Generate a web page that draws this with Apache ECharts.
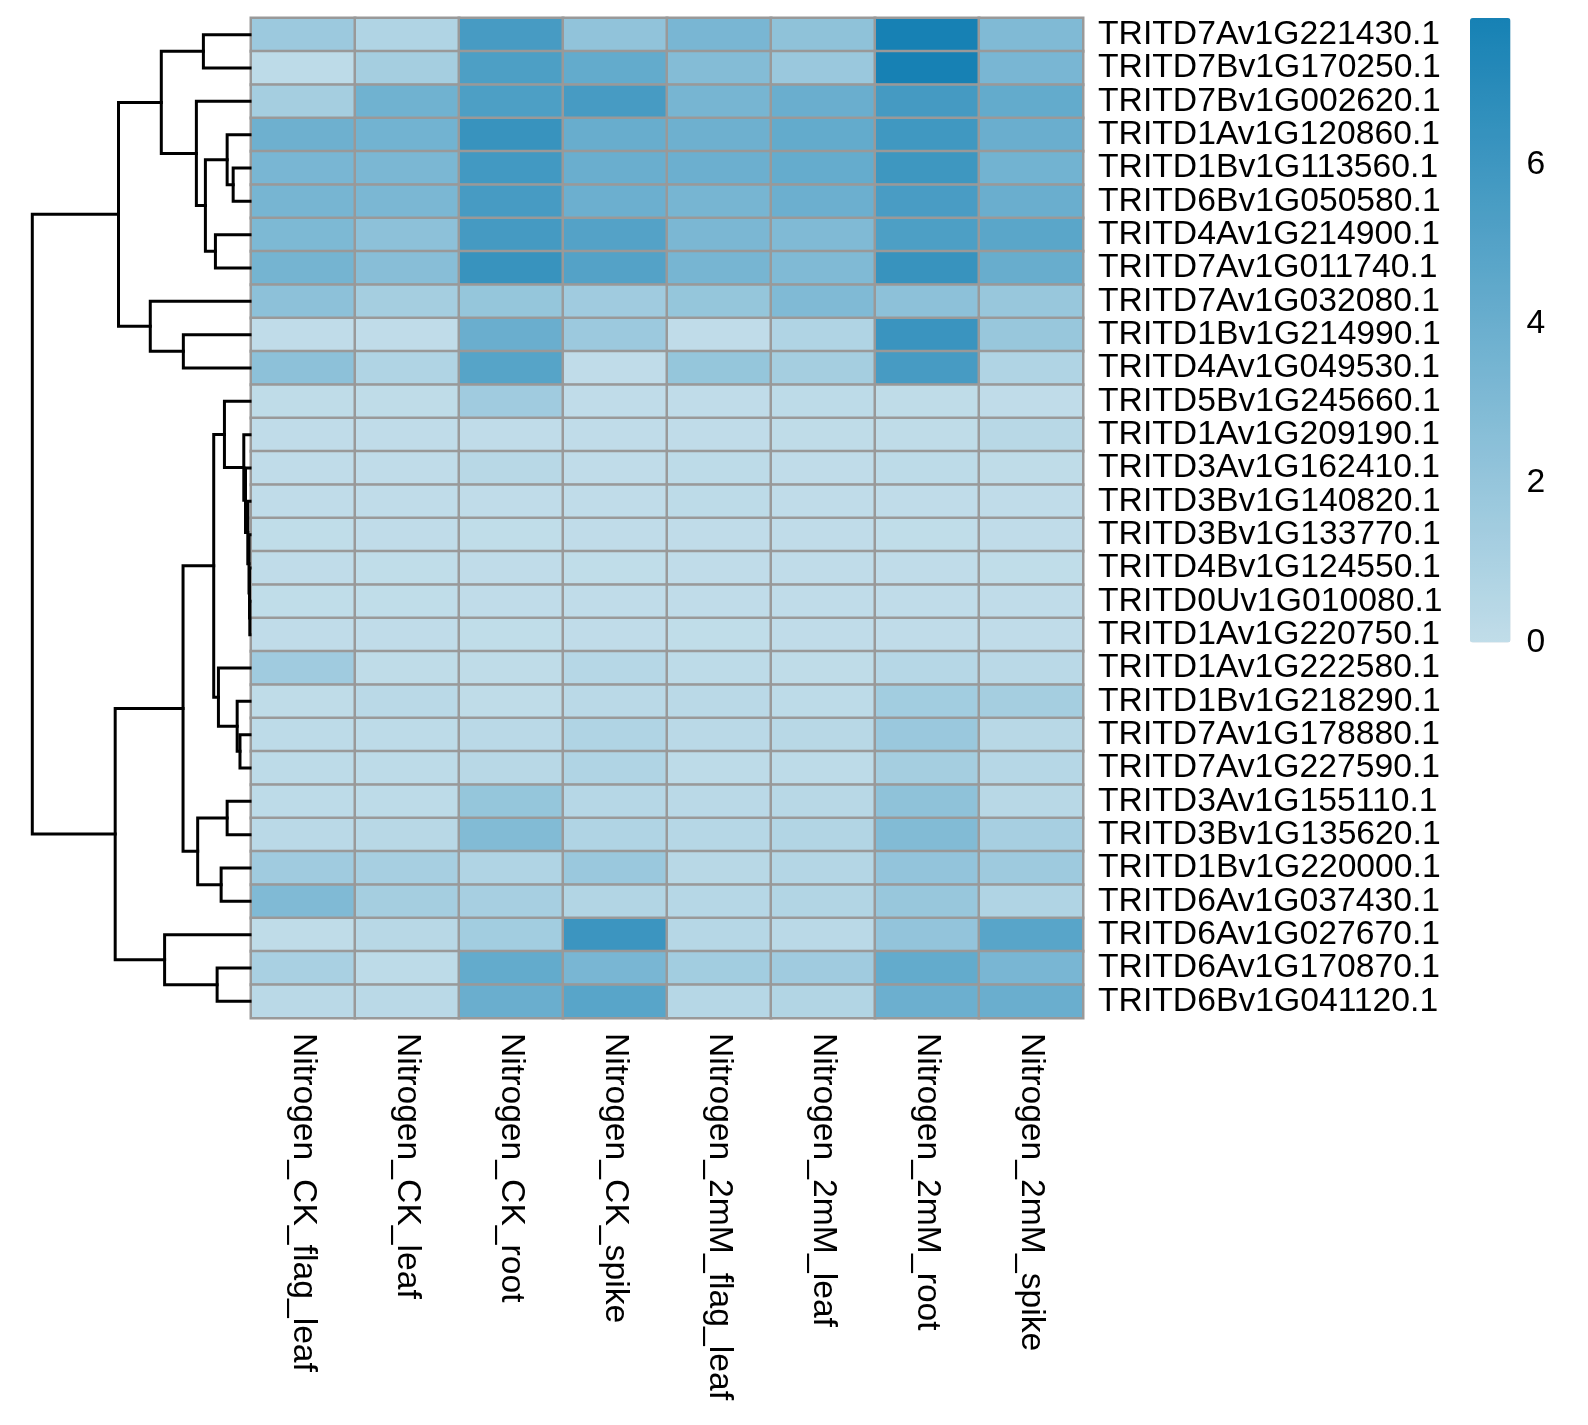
<!DOCTYPE html>
<html>
<head>
<meta charset="utf-8">
<script src="https://cdn.jsdelivr.net/npm/echarts@6/dist/echarts.min.js"></script>
<style>
html,body{margin:0;padding:0;background:#ffffff;}
#chart{width:1588px;height:1425px;}
</style>
</head>
<body>
<div id="chart"></div>
<script>
// ---------- data ----------
const rowNames = [
  "TRITD7Av1G221430.1","TRITD7Bv1G170250.1","TRITD7Bv1G002620.1","TRITD1Av1G120860.1",
  "TRITD1Bv1G113560.1","TRITD6Bv1G050580.1","TRITD4Av1G214900.1","TRITD7Av1G011740.1",
  "TRITD7Av1G032080.1","TRITD1Bv1G214990.1","TRITD4Av1G049530.1","TRITD5Bv1G245660.1",
  "TRITD1Av1G209190.1","TRITD3Av1G162410.1","TRITD3Bv1G140820.1","TRITD3Bv1G133770.1",
  "TRITD4Bv1G124550.1","TRITD0Uv1G010080.1","TRITD1Av1G220750.1","TRITD1Av1G222580.1",
  "TRITD1Bv1G218290.1","TRITD7Av1G178880.1","TRITD7Av1G227590.1","TRITD3Av1G155110.1",
  "TRITD3Bv1G135620.1","TRITD1Bv1G220000.1","TRITD6Av1G037430.1","TRITD6Av1G027670.1",
  "TRITD6Av1G170870.1","TRITD6Bv1G041120.1"
];
const colNames = [
  "Nitrogen_CK_flag_leaf","Nitrogen_CK_leaf","Nitrogen_CK_root","Nitrogen_CK_spike",
  "Nitrogen_2mM_flag_leaf","Nitrogen_2mM_leaf","Nitrogen_2mM_root","Nitrogen_2mM_spike"
];
// one row per gene, one value per column
const values = [
  [1.7, 0.8, 5.6, 2.2, 3.3, 2.3, 7.8, 3.0],
  [0.2, 1.3, 5.3, 4.3, 2.8, 1.8, 7.8, 3.3],
  [1.3, 3.7, 5.3, 5.6, 3.4, 4.0, 5.7, 4.3],
  [3.8, 3.6, 6.3, 4.1, 3.8, 4.3, 5.9, 4.0],
  [3.3, 3.2, 5.8, 4.0, 3.9, 4.2, 6.0, 3.6],
  [3.4, 3.2, 5.6, 3.9, 3.4, 3.9, 5.5, 4.0],
  [3.1, 2.4, 5.7, 5.0, 3.2, 3.0, 5.3, 4.7],
  [3.5, 2.6, 6.3, 5.0, 3.4, 3.0, 6.3, 4.1],
  [2.4, 1.3, 2.0, 1.5, 2.0, 3.0, 2.4, 1.9],
  [0.05, 0.05, 4.0, 1.7, 0.05, 0.8, 6.2, 1.9],
  [2.4, 0.8, 4.9, 0.05, 2.0, 1.3, 5.6, 0.8],
  [0.1, 0.1, 1.5, 0.05, 0.05, 0.2, 0.1, 0.05],
  [0.05, 0.05, 0.05, 0.05, 0.05, 0.1, 0.1, 0.4],
  [0.05, 0.05, 0.4, 0.05, 0.2, 0.05, 0.2, 0.1],
  [0.05, 0.05, 0.05, 0.05, 0.2, 0.05, 0.05, 0.05],
  [0.04, 0.05, 0.03, 0.05, 0.06, 0.05, 0.04, 0.05],
  [0.05, 0.04, 0.05, 0.04, 0.05, 0.06, 0.05, 0.04],
  [0.04, 0.04, 0.05, 0.05, 0.05, 0.05, 0.05, 0.05],
  [0.05, 0.05, 0.04, 0.05, 0.04, 0.05, 0.05, 0.05],
  [1.5, 0.1, 0.1, 0.5, 0.2, 0.1, 0.5, 0.3],
  [0.1, 0.3, 0.1, 0.3, 0.3, 0.2, 1.4, 1.3],
  [0.2, 0.2, 0.3, 0.8, 0.3, 0.4, 1.8, 0.4],
  [0.2, 0.2, 0.4, 0.8, 0.2, 0.2, 1.3, 0.5],
  [0.2, 0.2, 2.0, 0.5, 0.3, 0.4, 2.3, 0.4],
  [0.3, 0.4, 2.9, 0.8, 0.5, 0.7, 2.9, 1.2],
  [1.5, 1.2, 0.8, 1.8, 0.4, 0.6, 2.1, 1.6],
  [3.0, 1.3, 1.2, 0.7, 0.5, 0.7, 1.9, 0.8],
  [0.1, 0.4, 1.4, 6.1, 0.5, 0.3, 2.1, 4.8],
  [1.1, 0.2, 4.3, 3.3, 1.4, 1.5, 4.3, 3.3],
  [0.3, 0.3, 4.0, 4.8, 0.5, 0.7, 3.9, 4.0]
];
// row dendrogram (hclust-like): 'L#' = leaf row, 'N#' = earlier merge
const mergeLeft  = ["L0","L4","L3","L6","N2","L2","N0","L9","L8","N6",
                    "L17","L16","L15","L14","L13","L12","L11","L21","L20","L19",
                    "N16","L23","L25","N21","N20","L28","L27","N24","N9"];
const mergeRight = ["L1","L5","N1","L7","N3","N4","N5","L10","N7","N8",
                    "L18","N10","N11","N12","N13","N14","N15","L22","N17","N18",
                    "N19","L24","L26","N22","N23","L29","N25","N26","N27"];
const mergeHeight = [46.5, 16.8, 22.8, 34.5, 44.5, 53.5, 88.5, 66.5, 99.5, 131.2,
                     0.2, 0.5, 1.0, 2.2, 4.5, 6.2, 25.5, 10.0, 12.8, 31.5,
                     36.2, 22.8, 28.8, 52.2, 66.8, 32.8, 85.2, 134.5, 217.2];
const legendTicks = [0, 2, 4, 6];
const valueMin = 0;
const valueMax = 7.84;

// ---------- build ----------
const heatData = [];
values.forEach((row, r) => row.forEach((v, c) => heatData.push([c, r, v])));

const nodePos = [];
function refPos(ref) {
  const k = parseInt(ref.slice(1), 10);
  if (ref[0] === 'L') return { y: k, h: 0 };
  return nodePos[k];
}
const dendroLines = [];
mergeHeight.forEach((h, i) => {
  const a = refPos(mergeLeft[i]);
  const b = refPos(mergeRight[i]);
  nodePos[i] = { y: (a.y + b.y) / 2, h: h };
  dendroLines.push({ coords: [[a.h, a.y], [h, a.y], [h, b.y], [b.h, b.y]] });
});
const rootHeight = Math.max.apply(null, mergeHeight);

const FONT = "'Liberation Sans', Arial, Helvetica, sans-serif";
const FS = 33.7;
const gridTop = 18, gridH = 1000;

const chart = echarts.init(document.getElementById('chart'), null, { renderer: 'canvas' });
chart.setOption({
  backgroundColor: '#ffffff',
  animation: false,
  textStyle: { fontFamily: FONT },
  grid: [
    { left: 251, top: gridTop, width: 832, height: gridH },
    { left: 32.3, top: gridTop, width: 217.7, height: gridH },
    { left: 1470, top: 18, width: 40.5, height: 624.5 }
  ],
  xAxis: [
    {
      gridIndex: 0, type: 'category', data: colNames, position: 'bottom',
      axisLine: { show: false }, axisTick: { show: false }, splitLine: { show: false },
      axisLabel: { rotate: -90, margin: 15, fontSize: FS, color: '#000', fontFamily: FONT, interval: 0 }
    },
    {
      gridIndex: 1, type: 'value', min: 0, max: rootHeight, inverse: true, show: false
    },
    {
      gridIndex: 2, type: 'value', min: 0, max: 1, show: false
    }
  ],
  yAxis: [
    {
      gridIndex: 0, type: 'category', data: rowNames, inverse: true, position: 'right',
      axisLine: { show: false }, axisTick: { show: false }, splitLine: { show: false },
      axisLabel: { margin: 15, fontSize: FS, color: '#000', fontFamily: FONT, interval: 0 }
    },
    {
      gridIndex: 1, type: 'value', min: -0.5, max: rowNames.length - 0.5, inverse: true, show: false
    },
    {
      gridIndex: 2, type: 'value', min: valueMin, max: valueMax, interval: 2, position: 'right',
      axisLine: { show: false }, axisTick: { show: false }, splitLine: { show: false },
      axisLabel: {
        margin: 16, fontSize: FS, color: '#000', fontFamily: FONT,
        formatter: v => (legendTicks.indexOf(v) >= 0 ? String(v) : '')
      }
    }
  ],
  visualMap: {
    type: 'continuous', min: valueMin, max: valueMax, seriesIndex: 0,
    calculable: false, text: null, showLabel: false,
    left: 1470, top: 18, itemWidth: 40.5, itemHeight: 624.5, padding: 0,
    inRange: { color: ['#c1dde9', '#1681b4'] }
  },
  series: [
    {
      type: 'heatmap', xAxisIndex: 0, yAxisIndex: 0, data: heatData,
      itemStyle: { borderColor: '#999999', borderWidth: 2.5 },
      emphasis: { disabled: true }, label: { show: false }
    },
    {
      type: 'lines', coordinateSystem: 'cartesian2d', xAxisIndex: 1, yAxisIndex: 1,
      polyline: true, data: dendroLines, silent: true,
      lineStyle: { color: '#000000', width: 3, opacity: 1, join: 'miter', cap: 'square' }
    },
    {
      type: 'scatter', xAxisIndex: 2, yAxisIndex: 2, data: [], silent: true
    }
  ]
});
</script>
</body>
</html>
